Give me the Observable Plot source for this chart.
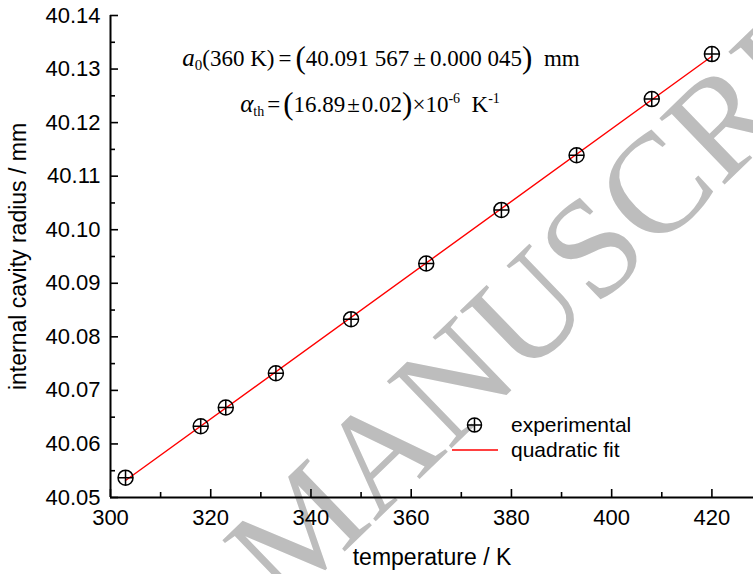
<!DOCTYPE html>
<html><head><meta charset="utf-8">
<script src="https://cdn.jsdelivr.net/npm/d3@7"></script>
<script src="https://cdn.jsdelivr.net/npm/@observablehq/plot@0.6"></script>
<style>
html,body{margin:0;padding:0;background:#fff;}
#chart{position:relative;width:753px;height:574px;overflow:hidden;}
</style></head><body><div id="chart"></div>
<script>
// ---- data ----
const temperature = [303, 318, 323, 333, 348, 363, 378, 393, 408, 420];
const radius = [40.0537, 40.0633, 40.0668, 40.0732, 40.0833, 40.0937, 40.1037, 40.1139, 40.1244, 40.1328];
const xDomain = [300, 428.3];
const yDomain = [40.05, 40.14];
const xTicks = [300, 320, 340, 360, 380, 400, 420];
const xMinorTicks = [310, 330, 350, 370, 390, 410];
const yTicks = [40.05, 40.06, 40.07, 40.08, 40.09, 40.10, 40.11, 40.12, 40.13, 40.14];
const yMinorTicks = [40.055, 40.065, 40.075, 40.085, 40.095, 40.105, 40.115, 40.125, 40.135];
const xLabel = "temperature / K";
const yLabel = "internal cavity radius / mm";
const legendLabels = ["experimental", "quadratic fit"];
const watermarkText = "ACCEPTED MANUSCRIPT";

const data = temperature.map((t, i) => ({t, r: radius[i]}));

// circle with a cross inside
const circlePlus = {
  draw(ctx, size) {
    const r = Math.sqrt(size / Math.PI);
    ctx.moveTo(r, 0);
    ctx.arc(0, 0, r, 0, 2 * Math.PI);
    ctx.moveTo(-r, 0); ctx.lineTo(r, 0);
    ctx.moveTo(0, -r); ctx.lineTo(0, r);
  }
};

const W = 753, H = 574;
const chart = Plot.plot({
  width: W, height: H,
  marginLeft: 110, marginRight: 0, marginTop: 15, marginBottom: 77,
  style: {fontFamily: "'Liberation Sans', Arial, sans-serif", fontSize: "22px", color: "#000", background: "transparent", overflow: "visible"},
  x: {domain: xDomain},
  y: {domain: yDomain},
  marks: [
    // axis lines
    Plot.ruleX([xDomain[0]], {stroke: "#000", strokeWidth: 2}),
    Plot.ruleY([yDomain[0]], {stroke: "#000", strokeWidth: 2}),
    // inward ticks
    Plot.axisY(yTicks, {tickSize: 8, dx: 8, fill: "none", stroke: "#000", strokeWidth: 1.6, label: null}),
    Plot.axisY(yMinorTicks, {tickSize: 5, dx: 5, fill: "none", stroke: "#000", strokeWidth: 1.6, label: null}),
    Plot.axisX(xTicks, {tickSize: 8, dy: -8, fill: "none", stroke: "#000", strokeWidth: 1.6, label: null}),
    Plot.axisX(xMinorTicks, {tickSize: 5, dy: -5, fill: "none", stroke: "#000", strokeWidth: 1.6, label: null}),
    // labels
    Plot.axisY(yTicks, {tickSize: 0, tickPadding: 10, tickFormat: d3.format(".2f"), fill: "#000",
      label: yLabel, labelAnchor: "center", labelOffset: 101, labelArrow: "none"}),
    Plot.axisX(xTicks, {tickSize: 0, tickPadding: 12, tickFormat: d => String(d), fill: "#000",
      label: xLabel, labelAnchor: "center", labelOffset: 67, labelArrow: "none"}),
    // fit and data
    Plot.linearRegressionY(data, {x: "t", y: "r", stroke: "#ff0000", strokeWidth: 1.4, ci: 0}),
    Plot.dot(data, {x: "t", y: "r", r: 7.5, symbol: circlePlus, fill: "none", stroke: "#000", strokeWidth: 1.5})
  ]
});
document.getElementById("chart").appendChild(chart);

const svg = d3.select(chart);
svg.selectAll('[aria-label="x-axis label"] text, [aria-label="y-axis label"] text').attr("font-size", 23);
svg.selectAll('[aria-label="x-axis label"], [aria-label="y-axis label"]').attr("font-size", 23);

// watermark (behind everything)
const wm = svg.insert("g", ":first-child");
const wmText = wm.append("text")
  .attr("text-anchor", "start")
  .attr("font-family", "'Liberation Serif', 'Times New Roman', serif")
  .attr("font-size", 142)
  .attr("fill", "#bdbdbd")
  .text(watermarkText);
const pre = wmText.node().getSubStringLength(0, 9);
wmText.attr("x", -pre).attr("y", 0);
wm.attr("transform", "translate(284,610) rotate(-44)");

// annotation
const serif = "'Liberation Serif', 'Times New Roman', serif";
const fs = 23;
function eqLine(y, cx, parts) {
  const t = svg.append("text").attr("text-anchor", "start").attr("font-family", serif)
    .attr("font-size", fs).attr("y", y).attr("fill", "#000");
  parts.forEach(p => {
    const s = t.append("tspan").attr("fill", "#000").text(p.t);
    if (p.i) s.attr("font-style", "italic");
    if (p.fs) s.attr("font-size", p.fs);
    if (p.dy) s.attr("dy", p.dy);
    if (p.dx) s.attr("dx", p.dx);
  });
  const w = t.node().getComputedTextLength();
  t.attr("x", cx - w / 2);
  return t;
}
eqLine(66, 370, [
  {t: "a", i: true, fs: 25},
  {t: "0", fs: 15, dy: 4},
  {t: "(360 K)", dy: -4},
  {t: "=", dx: 4},
  {t: "(", fs: 31, dy: 2, dx: 4},
  {t: "40.091 567", dy: -2},
  {t: "±", dx: 4},
  {t: "0.000 045", dx: 4},
  {t: ")", fs: 31, dy: 2},
  {t: " mm", dy: -2, dx: 6}
]);
eqLine(112, 365, [
  {t: "α", i: true, fs: 25},
  {t: "th", fs: 14, dy: 4},
  {t: "=", dy: -4, dx: 3},
  {t: "(", fs: 31, dy: 2, dx: 3},
  {t: "16.89", dy: -2},
  {t: "±", dx: 2},
  {t: "0.02", dx: 2},
  {t: ")", fs: 31, dy: 2},
  {t: "×10", dy: -2},
  {t: "-6", fs: 14, dy: -9},
  {t: "  K", dy: 9},
  {t: "-1", fs: 14, dy: -9}
]);

// legend
const lg = svg.append("g").attr("text-anchor", "start")
  .attr("font-family", "'Liberation Sans', Arial, sans-serif").attr("font-size", 21);
const p = d3.path(); circlePlus.draw(p, Math.PI * 7 * 7);
lg.append("path").attr("d", p.toString()).attr("transform", "translate(474.5,425)")
  .attr("fill", "none").attr("stroke", "#000").attr("stroke-width", 1.5);
lg.append("line").attr("x1", 452).attr("x2", 498).attr("y1", 450).attr("y2", 450)
  .attr("stroke", "#ff0000").attr("stroke-width", 1.4);
lg.append("text").attr("x", 511).attr("y", 432).text(legendLabels[0]);
lg.append("text").attr("x", 511).attr("y", 457).text(legendLabels[1]);
</script></body></html>
